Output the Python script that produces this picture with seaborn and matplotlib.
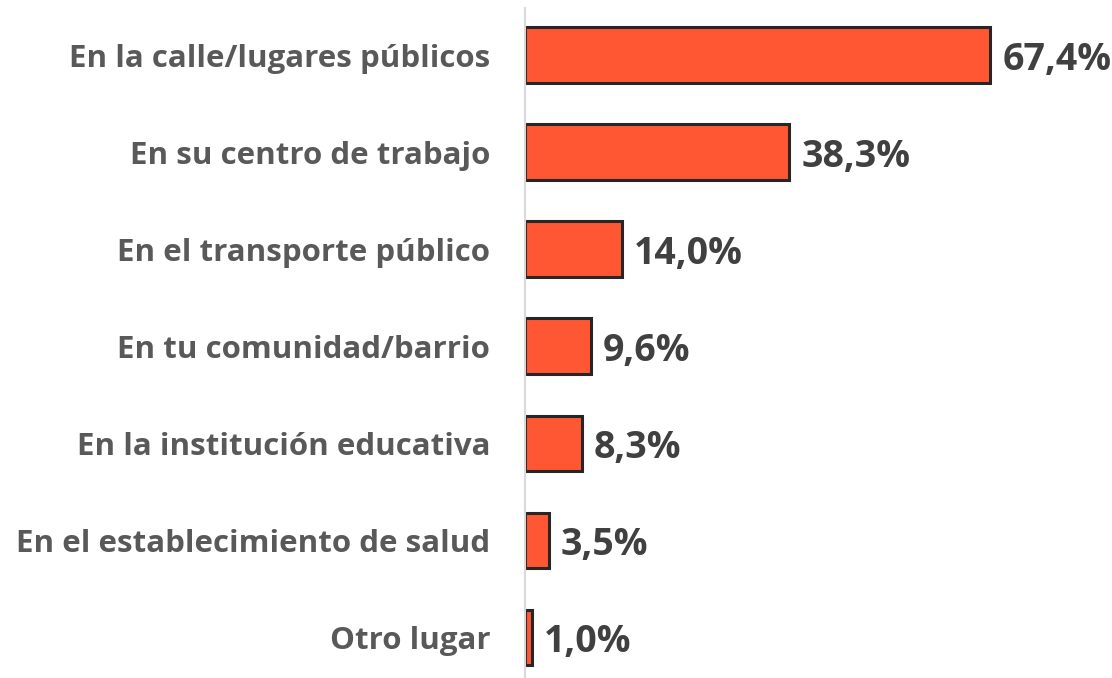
import pandas as pd
import matplotlib.pyplot as plt
import seaborn as sns

# Data
lugares = ['En la calle/lugares públicos', 'En su centro de trabajo', 'En el transporte público',
           'En tu comunidad/barrio', 'En la institución educativa',
           'En el establecimiento de salud', 'Otro lugar']
porcentajes = [67.4, 38.3, 14.0, 9.6, 8.3, 3.5, 1.0]

df = pd.DataFrame({'lugar': lugares, 'pct': porcentajes})

sns.set_style('white')
plt.rcParams['font.family'] = ['Open Sans', 'DejaVu Sans']

fig = plt.figure(figsize=(11.12, 6.78), dpi=100)
ax = fig.add_axes([525 / 1112, 0, 1 - 525 / 1112, 1 - 8 / 678])

sns.barplot(data=df, x='pct', y='lugar', orient='h', color='#FF5733', saturation=1,
            edgecolor='#262626', linewidth=2.2, width=0.57, ax=ax)

for i, v in enumerate(porcentajes):
    ax.text(v + 1.7, i + 0.05, f'{v:.1f}%'.replace('.', ','), va='center', ha='left',
            fontsize=27, fontweight='bold', color='#404040')

ax.set_xlim(0, 85)
ax.set_ylim(6.42, -0.485)
ax.set_xlabel('')
ax.set_ylabel('')
ax.set_xticks([])
ax.tick_params(axis='y', length=0, pad=25)
for lbl in ax.get_yticklabels():
    lbl.set_fontsize(22.5)
    lbl.set_fontweight('bold')
    lbl.set_color('#595959')

for s in ['top', 'right', 'bottom']:
    ax.spines[s].set_visible(False)
ax.spines['left'].set_color('#D9D9D9')
ax.spines['left'].set_linewidth(1.5)

fig.savefig('out.png', dpi=100)
